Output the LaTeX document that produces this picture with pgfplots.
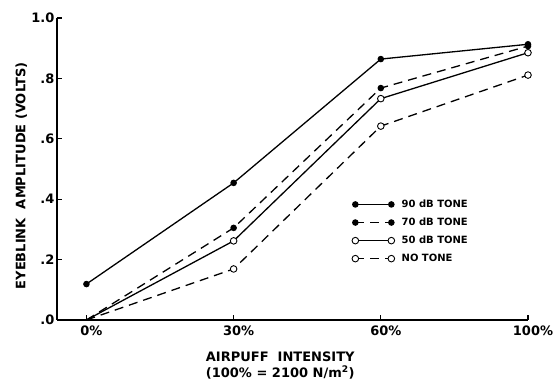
\documentclass[border=0pt]{standalone}
\usepackage{fontspec}
\setmainfont{DejaVu Sans}
\usepackage{pgfplots}
\pgfplotsset{compat=1.18}
\begin{document}
\begin{tikzpicture}
\path[use as bounding box] (-57pt,-63pt) rectangle (501pt,320pt);
\begin{axis}[
  at={(0,0)}, anchor=south west,
  scale only axis, width=471pt, height=302pt,
  xmin=-0.2, xmax=3, ymin=0, ymax=1.0,
  axis lines=left, axis line style={-, line width=1.2pt},
  tick style={line width=1.2pt, black}, tick align=inside,
  major tick length=5pt,
  xtick={0,1,2,3}, xticklabels={0\%,30\%,60\%,100\%},
  ytick={0,0.2,0.4,0.6,0.8,1.0}, yticklabels={.0,.2,.4,.6,.8,1.0},
  ticklabel style={font=\fontsize{13}{15}\selectfont\bfseries},
  xticklabel style={xshift=5pt, yshift=-2pt},
  yticklabel style={xshift=1pt},
  xlabel={AIRPUFF\ \ INTENSITY\\(100\% = 2100 N/m\textsuperscript{2})},
  xlabel style={font=\fontsize{13}{16}\selectfont\bfseries, align=center, at={(axis description cs:0.474,0)}, anchor=north, yshift=-28pt},
  ylabel={EYEBLINK\ \ AMPLITUDE (VOLTS)},
  ylabel style={font=\fontsize{13}{15}\selectfont\bfseries, at={(axis description cs:-0.076,0.477)}, anchor=center},
  clip=false,
  legend style={draw=none, fill=none, at={(axis description cs:0.626,0.405)}, anchor=north west,
    font=\fontsize{10}{12}\selectfont\bfseries, row sep=5pt, inner sep=0pt,
    /tikz/every odd column/.append style={column sep=5pt}},
  legend cell align=left,
  legend image code/.code={\draw[mark indices={1,2}] plot coordinates {(0pt,0pt) (36pt,0pt)};},
  every axis plot/.append style={line width=1.3pt, black},
]
\addplot[mark=*, mark size=2.6pt, mark options={solid, fill=black}] coordinates {(0,0.119) (1,0.454) (2,0.864) (3,0.913)};
\addlegendentry{90 dB TONE}
\addplot[dash pattern=on 9pt off 6pt, mark=*, mark size=2.6pt, mark options={solid, fill=black}, mark indices={2,3,4}] coordinates {(0,0) (1,0.305) (2,0.768) (3,0.907)};
\addlegendentry{70 dB TONE}
\addplot[mark=*, mark size=3.3pt, mark options={solid, fill=white, line width=0.9pt}, mark indices={2,3,4}] coordinates {(0,0) (1,0.262) (2,0.733) (3,0.885)};
\addlegendentry{50 dB TONE}
\addplot[dash pattern=on 9pt off 6pt, mark=*, mark size=3.3pt, mark options={solid, fill=white, line width=0.9pt}, mark indices={2,3,4}] coordinates {(0,0) (1,0.169) (2,0.642) (3,0.811)};
\addlegendentry{NO TONE}
\end{axis}
\end{tikzpicture}
\end{document}
